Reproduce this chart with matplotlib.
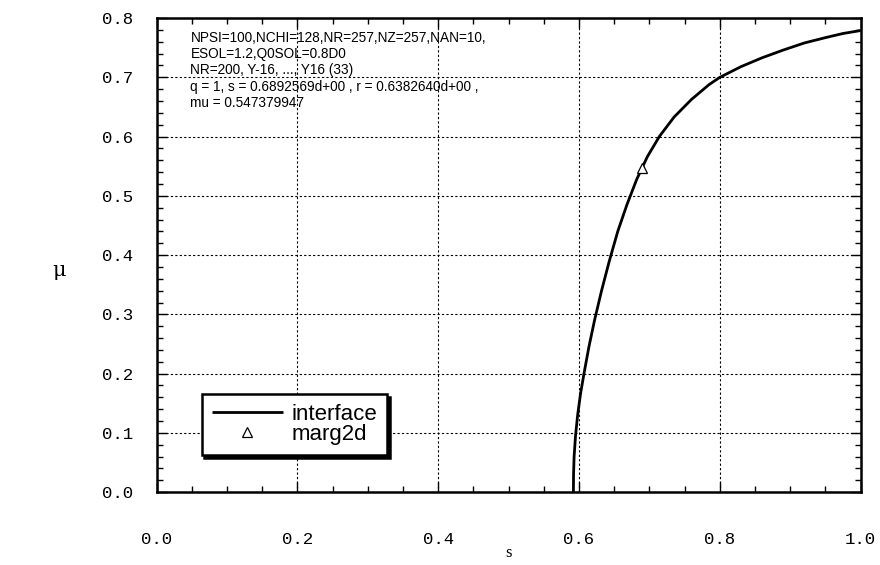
import matplotlib
matplotlib.use("Agg")
import matplotlib.pyplot as plt
import matplotlib.ticker as mticker

# interface curve mu(s)
s_vals = [0.592, 0.5922, 0.593, 0.595, 0.598, 0.602, 0.607, 0.614, 0.622,
          0.632, 0.643, 0.655, 0.668, 0.682, 0.697, 0.714, 0.735, 0.760,
          0.785, 0.800, 0.830, 0.860, 0.890, 0.920, 0.950, 0.975, 1.000]
mu_vals = [0.000, 0.030, 0.060, 0.095, 0.130, 0.165, 0.200, 0.245, 0.290,
           0.340, 0.390, 0.440, 0.485, 0.528, 0.566, 0.600, 0.633, 0.663,
           0.688, 0.700, 0.718, 0.733, 0.746, 0.758, 0.767, 0.774, 0.779]

# marg2d point
marg_s = [0.6892569]
marg_mu = [0.547379947]

info_lines = [
    "NPSI=100,NCHI=128,NR=257,NZ=257,NAN=10,",
    "ESOL=1.2,Q0SOL=0.8D0",
    "NR=200, Y-16, ..., Y16 (33)",
    "q = 1, s = 0.6892569d+00 , r = 0.6382640d+00 ,",
    "mu = 0.547379947",
]

x_ticks = [0.0, 0.2, 0.4, 0.6, 0.8, 1.0]
y_ticks = [0.0, 0.1, 0.2, 0.3, 0.4, 0.5, 0.6, 0.7, 0.8]

fig = plt.figure(figsize=(8.8, 5.65), dpi=100)
ax = fig.add_axes([0.178, 0.129, 0.800, 0.839])

ax.plot(s_vals, mu_vals, color="black", linewidth=2.0, label="interface",
        solid_capstyle="butt", solid_joinstyle="round")
ax.plot(marg_s, marg_mu, linestyle="none", marker="^", markersize=7,
        markerfacecolor="white", markeredgecolor="black",
        markeredgewidth=0.9, label="marg2d")

ax.set_xlim(0.0, 1.0)
ax.set_ylim(0.0, 0.8)
ax.set_xticks(x_ticks)
ax.set_yticks(y_ticks)
ax.xaxis.set_minor_locator(mticker.MultipleLocator(0.05))
ax.yaxis.set_minor_locator(mticker.MultipleLocator(0.02))
ax.xaxis.set_major_formatter(mticker.FormatStrFormatter("%.1f"))
ax.yaxis.set_major_formatter(mticker.FormatStrFormatter("%.1f"))
ax.tick_params(which="both", direction="in", top=True, right=True,
               colors="black", width=1.0)
ax.tick_params(which="major", length=7)
ax.tick_params(which="minor", length=4)
ax.tick_params(axis="x", pad=29)
ax.tick_params(axis="y", pad=17)
for lab in ax.get_xticklabels() + ax.get_yticklabels():
    lab.set_fontfamily("Liberation Mono")
    lab.set_fontsize(12.5)

for sp in ax.spines.values():
    sp.set_linewidth(1.8)
    sp.set_color("black")

ax.grid(True, which="major", color="black", linestyle=(0, (2, 2)),
        linewidth=0.8)

ax.text(0.048, 0.973, "\n".join(info_lines), transform=ax.transAxes,
        ha="left", va="top", fontsize=9.8, family="Liberation Sans",
        linespacing=1.21)

ax.set_xlabel("s", fontsize=12, family="Liberation Serif", labelpad=-2)
fig.text(59 / 880, 1 - 270 / 565, "\u03bc", fontsize=15,
         family="DejaVu Serif", ha="center", va="center")

leg = ax.legend(loc="lower left", bbox_to_anchor=(0.064, 0.078),
                prop={"family": "Liberation Sans", "size": 16},
                frameon=True, fancybox=False,
                shadow={"color": "black", "alpha": 1.0},
                handlelength=3.2, handletextpad=0.4, labelspacing=-0.05,
                borderpad=0.45, borderaxespad=0.0)
leg.get_frame().set_edgecolor("black")
leg.get_frame().set_linewidth(1.8)
leg.get_frame().set_alpha(1.0)

fig.savefig("out.png", dpi=100, facecolor="white")
plt.close(fig)
